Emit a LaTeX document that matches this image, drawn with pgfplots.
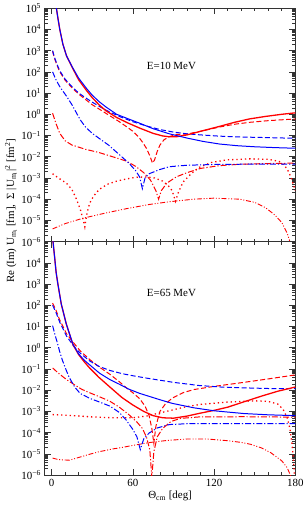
\documentclass[border=0pt]{standalone}
\usepackage{fontspec}
\setmainfont{Liberation Serif}
\usepackage{pgfplots}
\pgfplotsset{compat=1.18}
\tikzset{
 rs/.style={red, line width=1.3pt},
 bs/.style={blue, line width=1pt},
 rd/.style={red, line width=1pt, dash pattern=on 5pt off 2.5pt},
 bd/.style={blue, line width=1pt, dash pattern=on 5pt off 2.5pt},
 rdd/.style={red, line width=1pt, dash pattern=on 6pt off 2pt on 1.2pt off 2pt},
 bdd/.style={blue, line width=1pt, dash pattern=on 6pt off 2pt on 1.2pt off 2pt},
 rdot/.style={red, line width=1.3pt, dash pattern=on 1.3pt off 3pt},
 rddd/.style={red, line width=0.9pt, dash pattern=on 5pt off 1.8pt on 1pt off 1.8pt on 1pt off 1.8pt},
}
\newcommand\tl[1]{10\textsuperscript{#1}}
\begin{document}
\fontsize{11}{13}\selectfont
\begin{tikzpicture}
% ---------------- top panel: E = 10 MeV
\begin{axis}[scale only axis, width=251bp, height=234bp, anchor=north west, at={(0bp,0bp)},
   xmin=-5, xmax=180, ymode=log, ymin=1e-6, ymax=1e5,
   xtick={0,60,120,180}, minor x tick num=5, xticklabels={},
   ytickten={-6,-5,-4,-3,-2,-1,0,1,2,3,4,5},
   yticklabels={\tl{−6},\tl{−5},\tl{−4},\tl{−3},\tl{−2},\tl{−1},\tl{0},\tl{1},\tl{2},\tl{3},\tl{4},\tl{5}},
   tick align=inside, major tick length=6bp, minor tick length=3bp,
   axis line style={line width=0.8pt, black!80},
   every tick/.append style={black!80, line width=0.6pt},
   tick label style={font=\fontsize{11}{13}\selectfont}]
\addplot[rddd] coordinates {(0.7,3.98e-6)(10,7.08e-6)(23,1.26e-5)(40,2.24e-5)(55,3.55e-5)(72,5.62e-5)(87,7.59e-5)(105,1e-4)(120,1.12e-4)(139,1e-4)(150,7.08e-5)(158,3.98e-5)(165,1.78e-5)(170,7.94e-6)(174,2.51e-6)(177,6.31e-7)};
\addplot[rdot] coordinates {(0.7,1.58e-3)(5,1e-3)(11,5.62e-4)(15,2.82e-4)(18,1.12e-4)(21,3.55e-5)(23,1.26e-5)(24.5,5.01e-6)(26,2e-5)(28,6.31e-5)(31,1.41e-4)(35,2.82e-4)(41,5.01e-4)(48,7.08e-4)(55,8.91e-4)(62,1.07e-3)(70,1.12e-3)(76,1e-3)(82,7.08e-4)(86,4.47e-4)(89,2.51e-4)(91.5,7.94e-5)(93.5,2e-4)(97,6.31e-4)(103,1.58e-3)(109,3.16e-3)(118,5.37e-3)(129,7.08e-3)(146,7.94e-3)(160,7.59e-3)(168,6.03e-3)(172,3.98e-3)(175,2e-3)(177,1e-3)(179,3.98e-4)(180,2.51e-4)};
\addplot[rdd] coordinates {(0.7,1.12)(3,0.398)(6,0.126)(10,0.0562)(15,0.0355)(25,0.0224)(35,0.0158)(45,0.01)(55,6.31e-3)(62,3.55e-3)(68,1.78e-3)(73,7.94e-4)(77,2.51e-4)(79,1e-4)(81,2.51e-4)(85,5.62e-4)(92,1.12e-3)(100,1.78e-3)(110,2.82e-3)(124,3.8e-3)(140,4.47e-3)(160,4.79e-3)(180,5.01e-3)};
\addplot[bdd] coordinates {(0.7,100)(3,44.7)(6,20)(11,7.08)(15,2.82)(18,1.26)(21,0.562)(25,0.251)(30,0.126)(35,0.0741)(42,0.0355)(50,0.0126)(57,5.01e-3)(62,2.24e-3)(65,1.12e-3)(67,3.16e-4)(69,1e-3)(72,1.58e-3)(80,2.51e-3)(87,3.39e-3)(100,3.98e-3)(124,4.37e-3)(150,4.47e-3)(180,4.47e-3)};
\addplot[rd] coordinates {(0.7,933)(2,447)(4,200)(6,100)(10,39.8)(15,17.8)(20,8.91)(25,5.01)(30,2.82)(35,1.78)(40,1.12)(45,0.708)(50,0.447)(55,0.269)(60,0.158)(64,0.0891)(67,0.0501)(70,0.0251)(72.5,0.0112)(74.5,5.01e-3)(76,7.08e-3)(78,0.0178)(80,0.0355)(83,0.0631)(87,0.0891)(92,0.112)(100,0.117)(110,0.158)(124,0.251)(135,0.339)(146,0.417)(160,0.501)(170,0.55)(180,0.603)};
\addplot[bd] coordinates {(0.7,1000)(2,501)(4,224)(6,112)(10,44.7)(15,20)(20,10)(25,6.03)(30,3.72)(35,2.4)(40,1.58)(50,0.794)(60,0.447)(70,0.282)(80,0.191)(90,0.145)(100,0.12)(110,0.107)(124,0.0933)(140,0.0851)(160,0.0794)(180,0.0741)};
\addplot[rs] coordinates {(3.0,2e5)(3.5,1e5)(4.6,3.47e4)(6,1e4)(8.3,2e3)(11,562)(15.5,148)(20,41.7)(26,12.6)(30,6.03)(35,2.82)(40,1.48)(48,0.708)(56,0.398)(65,0.224)(75,0.126)(82,0.0955)(87,0.0871)(92,0.0871)(100,0.107)(110,0.158)(124,0.269)(135,0.417)(146,0.603)(158,0.794)(170,1.0)(180,1.17)};
\addplot[bs] coordinates {(3.0,2e5)(3.5,1e5)(4.6,3.47e4)(6,1e4)(8.3,2e3)(11,562)(15.5,158)(20,50.1)(26,15.8)(30,7.94)(35,3.98)(40,2.24)(48,1.0)(56,0.631)(65,0.38)(75,0.209)(87,0.12)(100,0.0759)(112,0.0525)(124,0.0398)(137,0.0331)(150,0.0295)(165,0.0269)(180,0.0251)};
\node[font=\fontsize{11}{13}\selectfont] at (axis cs:88.5,180) {E=10 MeV};
\end{axis}
% ---------------- bottom panel: E = 65 MeV
\begin{axis}[scale only axis, width=251bp, height=234bp, anchor=north west, at={(0bp,-234bp)},
   xmin=-5, xmax=180, ymode=log, ymin=1e-6, ymax=1e5,
   xtick={0,60,120,180}, minor x tick num=5, xticklabels={0,60,120,180},
   ytickten={-6,-5,-4,-3,-2,-1,0,1,2,3,4,5},
   yticklabels={\tl{−6},\tl{−5},\tl{−4},\tl{−3},\tl{−2},\tl{−1},\tl{0},\tl{1},\tl{2},\tl{3},\tl{4},{}},
   tick align=inside, major tick length=6bp, minor tick length=3bp,
   axis line style={line width=0.8pt, black!80},
   every tick/.append style={black!80, line width=0.6pt},
   tick label style={font=\fontsize{11}{13}\selectfont},
   xlabel={Θ\textsubscript{cm} [deg]}, xlabel style={font=\fontsize{11}{13}\selectfont, yshift=3bp}]
\addplot[rddd] coordinates {(0.7,6.31e-6)(5,5.37e-6)(13,5.01e-6)(20,6.76e-6)(28,9.55e-6)(35,1.26e-5)(45,1.7e-5)(52,2e-5)(60,2.51e-5)(72,3.39e-5)(85,4.27e-5)(100,5.01e-5)(115,5.01e-5)(130,4.17e-5)(140,3.47e-5)(147,2.82e-5)(155,1.91e-5)(162,1.12e-5)(170,4.68e-6)(174,2.24e-6)(177,7.94e-7)};
\addplot[rdot] coordinates {(0.7,7.08e-4)(10,6.61e-4)(20,6.03e-4)(30,5.5e-4)(45,5.01e-4)(60,5.01e-4)(70,6.03e-4)(80,8.51e-4)(90,1.2e-3)(100,1.7e-3)(110,2.14e-3)(130,2.75e-3)(150,3.16e-3)(160,2.95e-3)(167,2.24e-3)(171,1.26e-3)(174,5.01e-4)(176,1.58e-4)(177.5,3.16e-5)(178.7,5.01e-6)(179.6,6.31e-7)};
\addplot[rdd] coordinates {(0.7,0.112)(5,0.0631)(11,0.0316)(17,0.0178)(22,0.0112)(28,7.59e-3)(35,5.01e-3)(43,3.02e-3)(50,1.58e-3)(57,7.08e-4)(63,3.16e-4)(67,1.58e-4)(70,6.31e-5)(72.5,1.58e-5)(74,7.94e-7)(75.5,1.26e-5)(78,6.31e-5)(82,1.58e-4)(88,3.31e-4)(95,4.68e-4)(109,5.5e-4)(142,5.62e-4)(180,5.37e-4)};
\addplot[bdd] coordinates {(0.7,11)(2.5,3.98)(4.4,1.55)(6,0.631)(8,0.251)(11,0.0794)(13,0.0398)(17,0.0141)(21,7.08e-3)(28,4.17e-3)(35,2.82e-3)(43,1.78e-3)(50,8.91e-4)(55,3.98e-4)(60,1.41e-4)(63,6.31e-5)(65.5,1.58e-5)(68,5.01e-5)(72,9.55e-5)(78,1.66e-4)(87,2.4e-4)(100,2.63e-4)(140,2.69e-4)(180,2.69e-4)};
\addplot[rd] coordinates {(0.7,126)(3,63.1)(6,20)(11,4.57)(16,1.78)(21,0.724)(28,0.282)(35,0.126)(43,0.0562)(50,0.0251)(55,0.0132)(60,7.59e-3)(65,3.98e-3)(69,1.78e-3)(72,6.31e-4)(74,1.58e-4)(75.5,3.16e-5)(77,2e-4)(80,1e-3)(84,2.24e-3)(89,4.17e-3)(97,7.59e-3)(105,0.0107)(120,0.0151)(142,0.0234)(160,0.0339)(180,0.0525)};
\addplot[bd] coordinates {(0.7,100)(3,50.1)(6,15.8)(11,3.55)(16,1.26)(21,0.562)(28,0.24)(35,0.132)(43,0.0851)(52,0.0603)(60,0.0479)(70,0.0372)(77,0.0316)(90,0.0234)(109,0.0166)(125,0.0141)(142,0.0129)(160,0.012)(180,0.0117)};
\addplot[rs] coordinates {(0.8,2e5)(1.0,1e5)(2.2,1.82e4)(3.3,3.55e3)(4.6,1e3)(7.1,115)(10.8,13.2)(15.7,1.41)(20,0.468)(24.3,0.209)(28,0.112)(35,0.0398)(43,0.0141)(52,4.47e-3)(60,2e-3)(68,1e-3)(75,6.31e-4)(82,5.01e-4)(90,4.79e-4)(100,6.03e-4)(110,8.32e-4)(120,1.12e-3)(130,1.58e-3)(142,2.82e-3)(155,5.25e-3)(167,8.91e-3)(180,0.0141)};
\addplot[bs] coordinates {(0.8,2e5)(1.0,1e5)(2.2,1.82e4)(3.3,3.55e3)(4.6,1e3)(7.1,115)(10.8,13.2)(15.7,1.48)(20,0.501)(24.3,0.251)(28,0.158)(35.4,0.0631)(43,0.0316)(50,0.0191)(57,0.0112)(65,7.08e-3)(80,3.55e-3)(89,2.4e-3)(105,1.48e-3)(120,1.07e-3)(142,7.94e-4)(160,6.92e-4)(180,6.31e-4)};
\node[font=\fontsize{11}{13}\selectfont] at (axis cs:88.5,400) {E=65 MeV};
\end{axis}
\node[rotate=90, font=\fontsize{11}{13}\selectfont] at (-34bp,-203bp) {Re (Im) U\textsubscript{m\textsubscript{i}} [fm],\ \ Σ |U\textsubscript{m\textsubscript{i}}|\textsuperscript{2} [fm\textsuperscript{2}]};
\path (-45bp,7bp) rectangle (259bp,-499bp);
\end{tikzpicture}
\end{document}
